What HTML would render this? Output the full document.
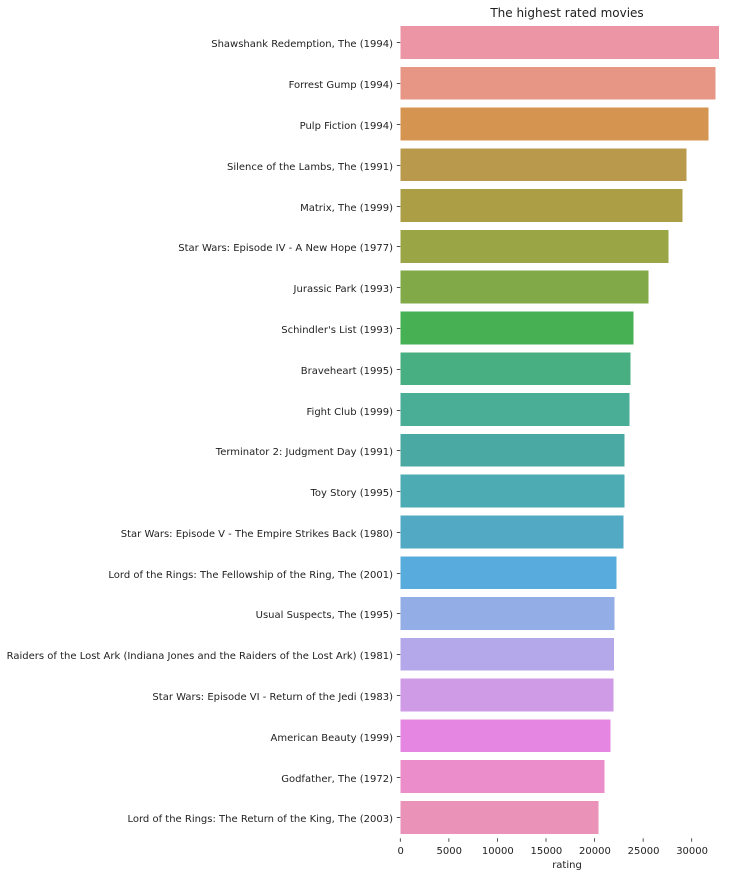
<!DOCTYPE html>
<html>
<head>
<meta charset="utf-8">
<title>The highest rated movies</title>
<style>
html,body{margin:0;padding:0;background:#fff;width:742px;height:876px;overflow:hidden}
svg{display:block;font-family:"DejaVu Sans",sans-serif;fill:#1f1f1f}
</style>
</head>
<body>
<svg id="chart" xmlns="http://www.w3.org/2000/svg" width="742" height="876" viewBox="0 0 742 876">
<text x="567" y="17" font-size="12" text-anchor="middle">The highest rated movies</text>
<text x="567" y="868" font-size="10" text-anchor="middle">rating</text>
</svg>
<script>
const categories = [
  "Shawshank Redemption, The (1994)",
  "Forrest Gump (1994)",
  "Pulp Fiction (1994)",
  "Silence of the Lambs, The (1991)",
  "Matrix, The (1999)",
  "Star Wars: Episode IV - A New Hope (1977)",
  "Jurassic Park (1993)",
  "Schindler's List (1993)",
  "Braveheart (1995)",
  "Fight Club (1999)",
  "Terminator 2: Judgment Day (1991)",
  "Toy Story (1995)",
  "Star Wars: Episode V - The Empire Strikes Back (1980)",
  "Lord of the Rings: The Fellowship of the Ring, The (2001)",
  "Usual Suspects, The (1995)",
  "Raiders of the Lost Ark (Indiana Jones and the Raiders of the Lost Ark) (1981)",
  "Star Wars: Episode VI - Return of the Jedi (1983)",
  "American Beauty (1999)",
  "Godfather, The (1972)",
  "Lord of the Rings: The Return of the King, The (2003)"
];
const ratings = [32830, 32440, 31720, 29450, 29040, 27600, 25540, 23990, 23680, 23580, 23060, 23060, 22960, 22240, 22040, 22020, 21930, 21620, 21010, 20390];
const barColors = ["#ec95a5", "#e79685", "#d59550", "#b99a4d", "#ab9e45", "#9aa545", "#82a947", "#46b053", "#48af82", "#4aae97", "#4ba9a3", "#4cabb3", "#52a9c3", "#57acdd", "#93aee6", "#b5a8ea", "#cf9ae6", "#e587e2", "#ea8dca", "#ea92b8"];
const xTicks = [0, 5000, 10000, 15000, 20000, 25000, 30000];

const svg = document.getElementById('chart');
const NS = 'http://www.w3.org/2000/svg';
const xScale = v => 400.3 + v * (291.4 / 30000);
const yScale = i => 42.4 + i * 40.79;
const barHeight = 32.8;

function make(tag, attrs, text) {
  const el = document.createElementNS(NS, tag);
  for (const k in attrs) el.setAttribute(k, attrs[k]);
  if (text !== undefined) el.textContent = text;
  svg.appendChild(el);
  return el;
}

categories.forEach((name, i) => {
  const y = yScale(i);
  const bar = make('rect', {x: xScale(0), y: y - barHeight / 2, width: xScale(ratings[i]) - xScale(0), height: barHeight, fill: barColors[i], 'shape-rendering': 'crispEdges'});
  
  
  const tickY = Math.round(y) + 0.5;
  const tick = make('line', {x1: 396.8, x2: 400.3, y1: tickY, y2: tickY, stroke: '#262626', 'stroke-width': 0.8});
  
  
  const label = make('text', {x: 393, y: Math.round(y) + 5, 'font-size': 10, 'text-anchor': 'end'}, name);
  
  
});

xTicks.forEach(v => {
  const x = xScale(v);
  const tick = make('line', {x1: x, x2: x, y1: 838.3, y2: 841.8, stroke: '#262626', 'stroke-width': 0.8});
  
  
  const label = make('text', {x: x + 0.4, y: 854, 'font-size': 10, 'text-anchor': 'middle'}, String(v));
  
  
});
</script>
</body>
</html>
